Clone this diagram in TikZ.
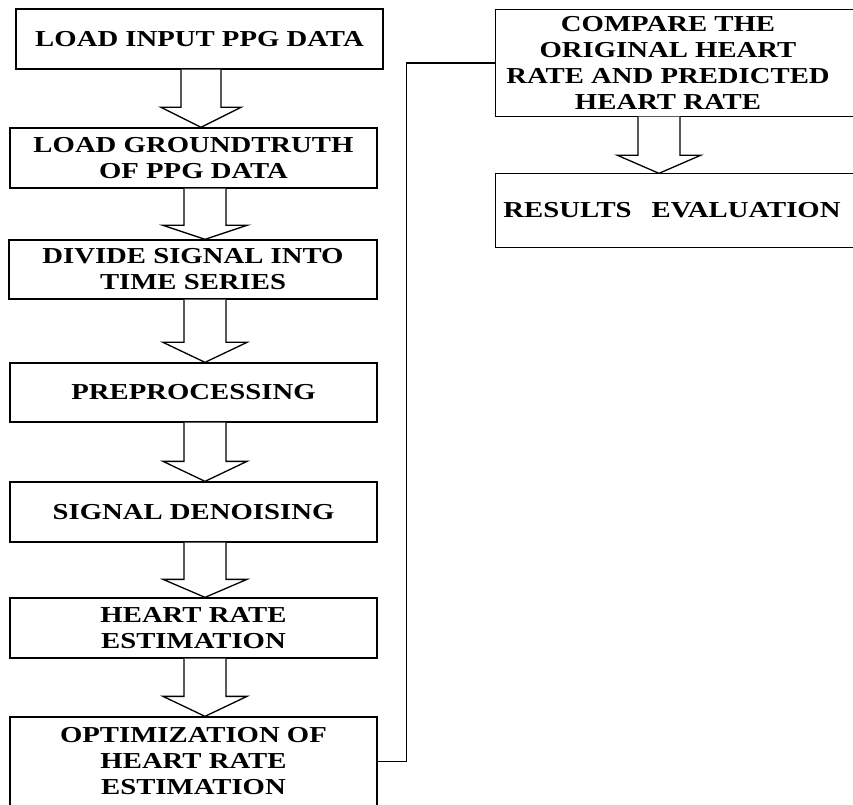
\documentclass[tikz,border=0pt]{standalone}
\usepackage{fontspec}
\newfontfamily\boxfont{Liberation Serif}[FakeStretch=1.26]
\usetikzlibrary{calc}
\tikzset{
  boxnode/.style={draw, line width=1.3pt, rectangle, inner sep=0pt, align=center,
    font=\boxfont\bfseries\fontsize{22.8}{26}\selectfont},
  barrow/.style={draw, line width=1.3pt, fill=white, line join=miter},
  conn/.style={draw, line width=1.3pt}
}
% #1 from node, #2 to node, #3 centre x, #4 half shaft width, #5 half head width, #6 head length
\newcommand\blockarrow[6]{%
  \draw[barrow] let \p1=(#1.south), \p2=(#2.north) in
    (#3pt-#4pt,\y1) -- (#3pt-#4pt,\y2+#6pt) -- (#3pt-#5pt,\y2+#6pt) -- (#3pt,\y2)
    -- (#3pt+#5pt,\y2+#6pt) -- (#3pt+#4pt,\y2+#6pt) -- (#3pt+#4pt,\y1);}
\begin{document}
\begin{tikzpicture}[x=1pt,y=1pt]
\useasboundingbox (0,0) rectangle (853,804);
\fill[white] (0,0) rectangle (853,804);
\clip (0,0) rectangle (853,804);
% left column (y = 804 - pixel row)
\node[boxnode, minimum width=367pt, minimum height=60pt] (b1) at (199.5,765) {LOAD INPUT PPG DATA};
\node[boxnode, minimum width=367pt, minimum height=60pt] (b2) at (193.5,646) {LOAD GROUNDTRUTH\\OF PPG DATA};
\node[boxnode, minimum width=368pt, minimum height=59pt] (b3) at (193,534.5) {DIVIDE SIGNAL INTO\\TIME SERIES};
\node[boxnode, minimum width=367pt, minimum height=59pt] (b4) at (193.5,411.5) {PREPROCESSING};
\node[boxnode, minimum width=367pt, minimum height=60pt] (b5) at (193.5,292) {SIGNAL DENOISING};
\node[boxnode, minimum width=367pt, minimum height=60pt] (b6) at (193.5,176) {HEART RATE\\ESTIMATION};
\node[boxnode, minimum width=367pt, minimum height=89pt] (b7) at (193.5,42.5) {OPTIMIZATION OF\\HEART RATE\\ESTIMATION};
% right column (boxes run past the right edge)
\node[boxnode, draw=none, minimum width=344pt, minimum height=106pt] (b8) at (668,741) {COMPARE THE\\ORIGINAL HEART\\RATE AND PREDICTED\\HEART RATE};
\draw[line width=1.3pt] (b8.north west) rectangle ($(b8.south east)+(40,0)$);
\node[boxnode, draw=none, minimum width=352pt, minimum height=73pt] (b9) at (672,593.5) {RESULTS\hspace{20pt}EVALUATION};
\draw[line width=1.3pt] (b9.north west) rectangle ($(b9.south east)+(40,0)$);
% block arrows
\blockarrow{b1}{b2}{201}{20}{40}{20}
\blockarrow{b2}{b3}{205}{21}{42}{14}
\blockarrow{b3}{b4}{205}{21}{42}{20}
\blockarrow{b4}{b5}{205}{21}{42}{20}
\blockarrow{b5}{b6}{205}{21}{42}{18}
\blockarrow{b6}{b7}{205}{21}{42}{20}
\blockarrow{b8}{b9}{659}{21}{41.5}{18}
% connector
\draw[conn] (b7.east) -- ++(29,0) |- (b8.west);
\end{tikzpicture}
\end{document}
